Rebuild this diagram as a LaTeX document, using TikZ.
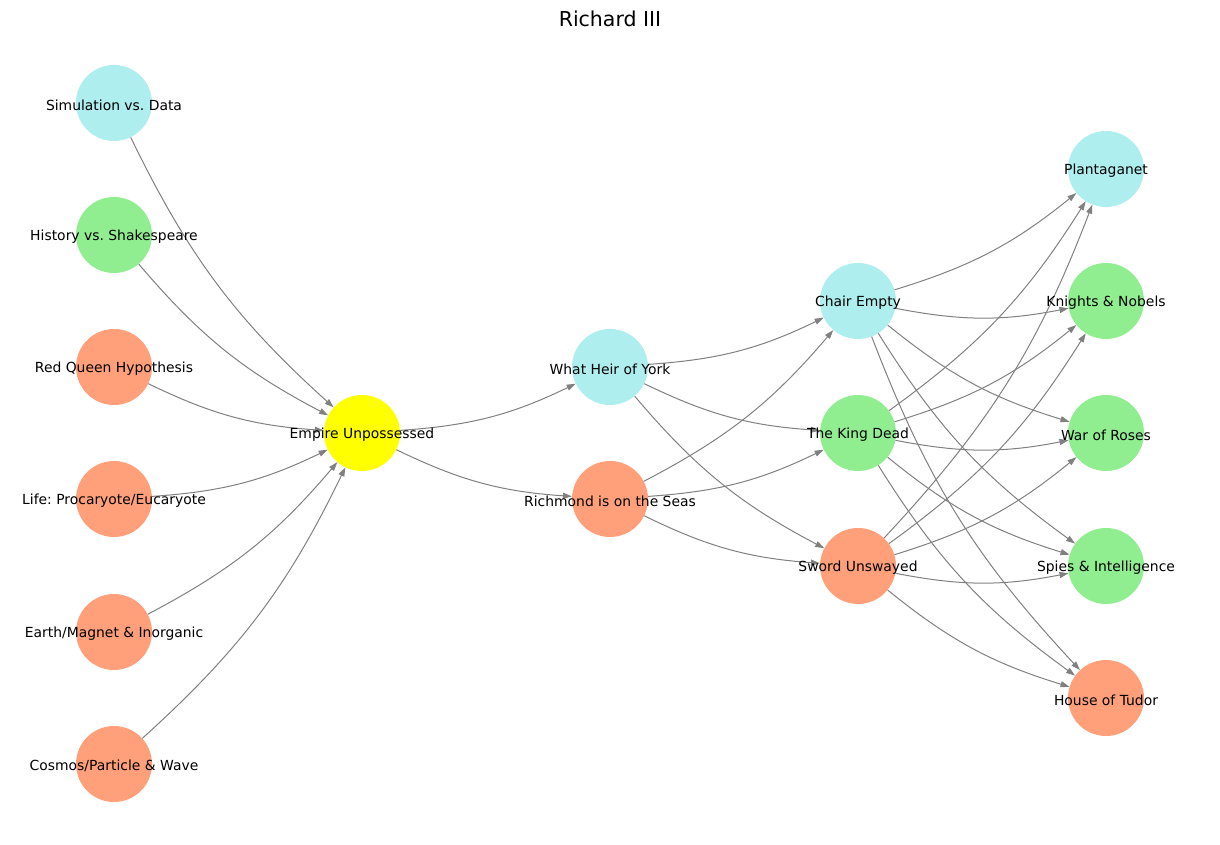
\documentclass[tikz,border=0pt]{standalone}
\usepackage{fontspec}
\setmainfont{DejaVu Sans}
\frenchspacing
\usetikzlibrary{arrows.meta}
\definecolor{ccyan}{HTML}{AFEEEE}
\definecolor{cgreen}{HTML}{90EE90}
\definecolor{csalmon}{HTML}{FFA07A}
\definecolor{cyellow}{HTML}{FFFF00}
\definecolor{cedge}{HTML}{808080}
\tikzset{
  nd/.style={circle, inner sep=0pt, minimum size=76pt, draw=none},
  cy/.style={nd, fill=ccyan},
  gr/.style={nd, fill=cgreen},
  sa/.style={nd, fill=csalmon},
  ye/.style={nd, fill=cyellow},
  lbl/.style={font=\fontsize{13.9pt}{16pt}\selectfont, inner sep=0pt, yshift=-2pt},
  ed/.style={draw=cedge, line width=1pt, -{Triangle[length=9pt,width=6pt]}, bend right=11}
}
\begin{document}
\begin{tikzpicture}[x=1pt,y=1pt]
\useasboundingbox (0,0) rectangle (1220,844);
% nodes
\node[cy] (sim) at (114,741) {};
\node[gr] (his) at (114,609) {};
\node[sa] (rq) at (114,477) {};
\node[sa] (life) at (114,345) {};
\node[sa] (earth) at (114,212) {};
\node[sa] (cos) at (114,80) {};
\node[ye] (emp) at (362,411) {};
\node[cy] (heir) at (610,477) {};
\node[sa] (rich) at (610,345) {};
\node[cy] (chair) at (858,543) {};
\node[gr] (king) at (858,411) {};
\node[sa] (sword) at (858,278) {};
\node[cy] (plan) at (1106,675) {};
\node[gr] (kn) at (1106,543) {};
\node[gr] (war) at (1106,411) {};
\node[gr] (spy) at (1106,278) {};
\node[sa] (tud) at (1106,146) {};
% edges
\foreach \s in {sim,his,rq,life,earth,cos} \draw[ed] (\s) to (emp);
\foreach \t in {heir,rich} \draw[ed] (emp) to (\t);
\foreach \s in {heir,rich} \foreach \t in {chair,king,sword} \draw[ed] (\s) to (\t);
\foreach \s in {chair,king,sword} \foreach \t in {plan,kn,war,spy,tud} \draw[ed] (\s) to (\t);
% labels
\node[lbl] at (sim) {Simulation vs. Data};
\node[lbl] at (his) {History vs. Shakespeare};
\node[lbl] at (rq) {Red Queen Hypothesis};
\node[lbl] at (life) {Life: Procaryote/Eucaryote};
\node[lbl] at (earth) {Earth/Magnet \& Inorganic};
\node[lbl] at (cos) {Cosmos/Particle \& Wave};
\node[lbl] at (emp) {Empire Unpossessed};
\node[lbl] at (heir) {What Heir of York};
\node[lbl] at (rich) {Richmond is on the Seas};
\node[lbl] at (chair) {Chair Empty};
\node[lbl] at (king) {The King Dead};
\node[lbl] at (sword) {Sword Unswayed};
\node[lbl] at (plan) {Plantaganet};
\node[lbl] at (kn) {Knights \& Nobels};
\node[lbl] at (war) {War of Roses};
\node[lbl] at (spy) {Spies \& Intelligence};
\node[lbl] at (tud) {House of Tudor};
\node[font=\fontsize{20.5pt}{24pt}\selectfont, inner sep=0pt] (title) at (610,825) {Richard III};
\end{tikzpicture}
\end{document}
